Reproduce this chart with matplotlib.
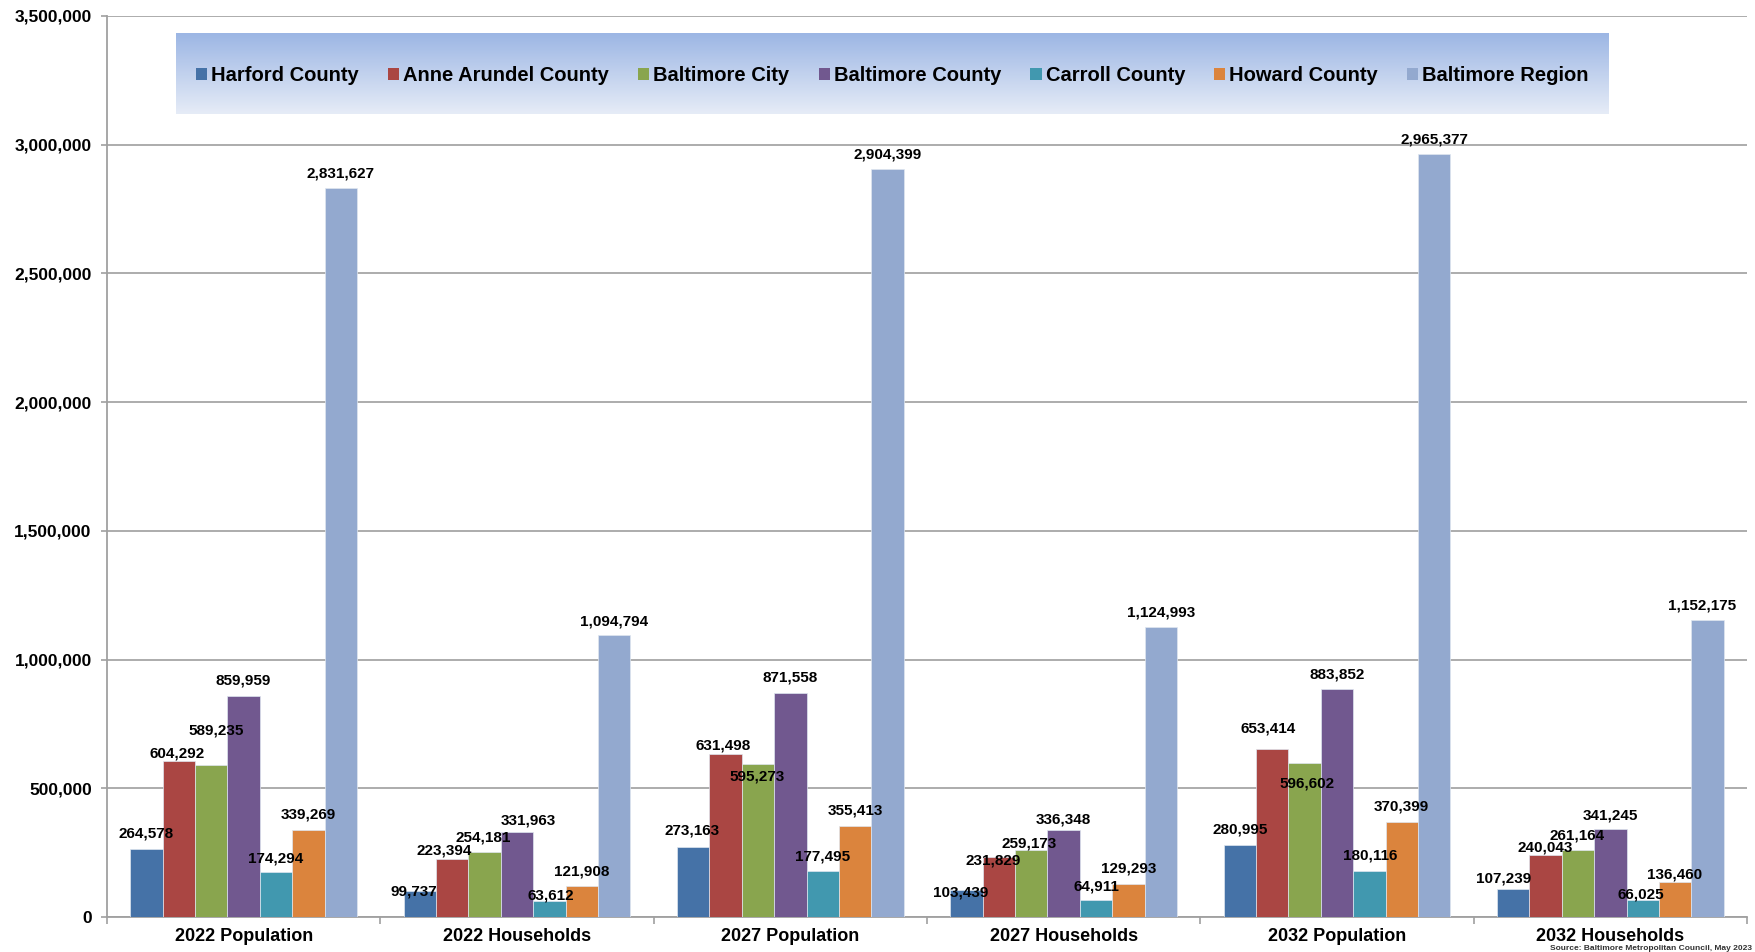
import matplotlib
matplotlib.use("Agg")
import matplotlib.pyplot as plt
import numpy as np
from matplotlib.patches import Patch
from matplotlib.ticker import FuncFormatter, MultipleLocator

plt.rcParams['font.family'] = ['Liberation Sans', 'DejaVu Sans']

categories = ["2022 Population", "2022 Households", "2027 Population",
              "2027 Households", "2032 Population", "2032 Households"]
series_names = ["Harford County", "Anne Arundel County", "Baltimore City",
                "Baltimore County", "Carroll County", "Howard County", "Baltimore Region"]

harford = [264578, 99737, 273163, 103439, 280995, 107239]
anne_arundel = [604292, 223394, 631498, 231829, 653414, 240043]
baltimore_city = [589235, 254181, 595273, 259173, 596602, 261164]
baltimore_county = [859959, 331963, 871558, 336348, 883852, 341245]
carroll = [174294, 63612, 177495, 64911, 180116, 66025]
howard = [339269, 121908, 355413, 129293, 370399, 136460]
region = [2831627, 1094794, 2904399, 1124993, 2965377, 1152175]

series = [harford, anne_arundel, baltimore_city, baltimore_county, carroll, howard, region]
colors = ['#4572A7', '#AA4643', '#89A54E', '#71588F', '#4198AF', '#DB843D', '#93A9CF']

# label nudges in pixels (dx, dy of label centre relative to bar top centre), per series x category
label_dx = [
    [-1, -6, -1, -6, 0, -10],
    [-2, -8, -3, -6, -4, 0],
    [5, -1, -1, -2, 2, -1],
    [0, 11, 0, 0, 0, 0],
    [0, 1, 0, 0, 1, -2],
    [0, 0, 0, 0, 0, 0],
    [0, 0, 0, 0, 0, -5],
]
label_dy = [
    [15, 0, 16, -2, 15, 11],
    [8, 9, 9, -3, 20, 8],
    [35, 14, -13, 7, -20, 14],
    [15, 11, 15, 11, 15, 14],
    [14, 5, 15, 14, 15, 6],
    [15, 14, 15, 15, 15, 7],
    [15, 14, 15, 15, 14, 15],
]

W, H = 1756, 952
fig = plt.figure(figsize=(W / 100, H / 100), dpi=100)
ax = fig.add_axes([107 / W, 1 - 917 / H, (1747 - 107) / W, (917 - 16) / H])

n = len(series)
bw = 0.1183
x = np.arange(len(categories))
for j, (vals, c) in enumerate(zip(series, colors)):
    xs = x + (j - (n - 1) / 2) * bw
    ax.bar(xs, vals, width=bw, color=c, edgecolor='#dfe6f0', linewidth=0.5, zorder=3)
    for i, v in enumerate(vals):
        ax.annotate(f"{v:,}", (xs[i], v), xytext=(label_dx[j][i] * 0.72, label_dy[j][i] * 0.72),
                    textcoords='offset points', ha='center', va='center',
                    fontsize=11, fontweight='bold', color='black', zorder=5)

ax.set_xlim(-0.5, len(categories) - 0.5)
ax.set_ylim(0, 3500000)
ax.yaxis.set_major_locator(MultipleLocator(500000))
ax.yaxis.set_major_formatter(FuncFormatter(lambda v, p: f"{int(v):,}"))
ax.grid(axis='y', color='#a6a6a6', linewidth=1.3, zorder=0)
ax.set_axisbelow(True)
for s in ['top', 'right']:
    ax.spines[s].set_visible(False)
for s in ['left', 'bottom']:
    ax.spines[s].set_color('#a0a0a0')
    ax.spines[s].set_linewidth(1.3)

ax.set_xticks(x)
ax.set_xticklabels(categories, fontsize=13, fontweight='bold')
ax.set_xticks(np.arange(-0.5, len(categories)), minor=True)
ax.tick_params(axis='x', which='major', length=0, pad=8)
ax.tick_params(axis='x', which='minor', length=5, color='#a0a0a0', width=1.2)
ax.tick_params(axis='y', length=4, color='#a0a0a0', width=1.2, pad=7)
for lab in ax.get_yticklabels():
    lab.set_fontsize(12.5)
    lab.set_fontweight('bold')

# legend background gradient
lx0, lx1, ly0, ly1 = 176, 1609, 33, 114
gax = fig.add_axes([lx0 / W, 1 - ly1 / H, (lx1 - lx0) / W, (ly1 - ly0) / H], zorder=4)
top = np.array([0x9c, 0xb6, 0xe4]) / 255
bot = np.array([0xe6, 0xec, 0xf7]) / 255
t = np.linspace(0, 1, 100)[:, None]
grad = (top * (1 - t) + bot * t)[:, None, :]
gax.imshow(grad, aspect='auto', extent=[0, 1, 0, 1])
gax.set_axis_off()

handles = [Patch(facecolor=c, edgecolor='none') for c in colors]
leg = fig.legend(handles, series_names, loc='center', bbox_to_anchor=((lx0 + lx1) / 2 / W, 1 - 76 / H),
                 ncol=7, frameon=False, prop={'size': 14.5, 'weight': 'bold'},
                 handlelength=0.55, handleheight=0.55, handletextpad=0.2, columnspacing=1.45)
leg.set_zorder(10)

fig.text(1752 / W, 0.5 / H, "Source: Baltimore Metropolitan Council, May 2023", ha='right', va='bottom',
         fontsize=6, fontweight='bold', color='#333333')

fig.savefig("out.png", dpi=100)
